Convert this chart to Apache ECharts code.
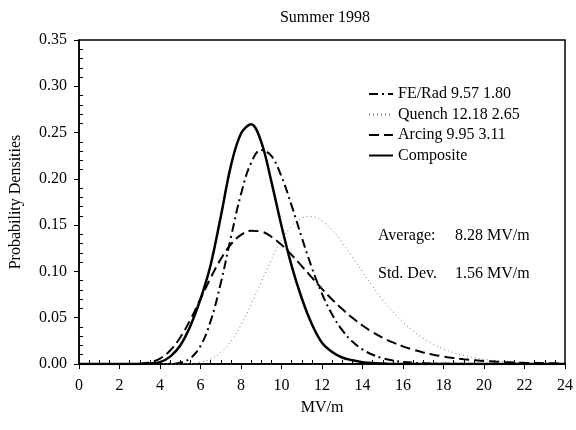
<!DOCTYPE html>
<html>
<head>
<meta charset="utf-8">
<script src="https://cdn.jsdelivr.net/npm/echarts@6/dist/echarts.min.js"></script>
<style>
html, body { margin: 0; padding: 0; background: #fff; }
#main { width: 576px; height: 430px; }
</style>
</head>
<body>
<div id="main"></div>
<script>
// MV/m sample points (x axis)
var xs = [0, 0.5, 1, 1.5, 2, 2.5, 3, 3.5, 4, 4.5, 5, 5.5, 6, 6.5, 7, 7.5, 8, 8.5, 9, 9.5,
  10, 10.5, 11, 11.5, 12, 12.5, 13, 13.5, 14, 14.5, 15, 15.5, 16, 16.5, 17, 17.5, 18, 18.5, 19, 19.5,
  20, 20.5, 21, 21.5, 22, 22.5, 23, 23.5, 24];

// probability densities
var feRad = [0, 0, 0, 0, 0, 0, 0, 0, 0, 0.0002, 0.0014, 0.0062, 0.0195, 0.0463, 0.0872, 0.1366, 0.1835, 0.2173, 0.2312, 0.2248,
  0.2026, 0.1711, 0.1366, 0.1040, 0.0759, 0.0535, 0.0365, 0.0242, 0.0157, 0.0100, 0.0062, 0.0038, 0.0023, 0.0014, 0.0008, 0.0005, 0.0003, 0.0002, 0.0001, 0,
  0, 0, 0, 0, 0, 0, 0, 0, 0];
var quench = [0, 0, 0, 0, 0, 0, 0, 0, 0, 0, 0.0001, 0.0005, 0.0019, 0.0055, 0.0126, 0.0247, 0.0421, 0.0642, 0.0886, 0.1127,
  0.1337, 0.1490, 0.1577, 0.1592, 0.1544, 0.1446, 0.1312, 0.1157, 0.0996, 0.0839, 0.0693, 0.0563, 0.0450, 0.0355, 0.0276, 0.0213, 0.0162, 0.0122, 0.0092, 0.0068,
  0.0050, 0.0037, 0.0027, 0.0019, 0.0014, 0.0010, 0.0007, 0.0005, 0.0004];
var arcing = [0, 0, 0, 0, 0, 0, 0.0004, 0.0018, 0.0059, 0.0146, 0.0287, 0.0479, 0.0703, 0.0930, 0.1133, 0.1292, 0.1395, 0.1439, 0.1430, 0.1375,
  0.1288, 0.1179, 0.1058, 0.0934, 0.0812, 0.0697, 0.0593, 0.0499, 0.0416, 0.0345, 0.0284, 0.0233, 0.0190, 0.0155, 0.0125, 0.0101, 0.0081, 0.0065, 0.0052, 0.0042,
  0.0033, 0.0026, 0.0021, 0.0017, 0.0013, 0.0011, 0.0009, 0.0007, 0.0005];
var composite = [0, 0, 0, 0, 0, 0, 0, 0.0005, 0.002, 0.008, 0.020, 0.041, 0.070, 0.107, 0.159, 0.214, 0.249, 0.259, 0.240, 0.197,
  0.149, 0.106, 0.071, 0.043, 0.023, 0.013, 0.007, 0.004, 0.002, 0.001, 0.0005, 0, 0, 0, 0, 0, 0, 0, 0, 0,
  0, 0, 0, 0, 0, 0, 0, 0, 0];

var names = ['FE/Rad 9.57 1.80', 'Quench 12.18 2.65', 'Arcing 9.95 3.11', 'Composite'];

function pairs(ys) {
  return xs.map(function (x, i) { return [x, ys[i]]; });
}

var font = 'Liberation Serif';
var myChart = echarts.init(document.getElementById('main'));

var option = {
  animation: false,
  backgroundColor: '#fff',
  textStyle: { fontFamily: font, color: '#000' },
  title: {
    text: 'Summer 1998',
    left: 320, top: 5, textAlign: 'center',
    textStyle: { fontFamily: font, fontWeight: 'normal', fontSize: 16, color: '#000' }
  },
  grid: {
    left: 78, right: 11, top: 40, bottom: 66,
    show: true, borderColor: '#000', borderWidth: 1.5, backgroundColor: 'transparent'
  },
  legend: {
    orient: 'vertical', left: 363, top: 81,
    itemWidth: 24, itemHeight: 15, itemGap: 4.5,
    itemStyle: { opacity: 0 },
    textStyle: { fontFamily: font, fontSize: 16, color: '#000' },
    data: names
  },
  xAxis: {
    type: 'value', min: 0, max: 24, interval: 2,
    name: 'MV/m', nameLocation: 'middle', nameGap: 36,
    nameTextStyle: { fontFamily: font, fontSize: 16, color: '#000' },
    axisLine: { onZero: false, lineStyle: { color: '#000', width: 1.5 } },
    axisTick: { length: 5, lineStyle: { color: '#000' } },
    minorTick: { show: true, splitNumber: 4, length: -4, lineStyle: { color: '#000' } },
    axisLabel: { fontFamily: font, fontSize: 16, color: '#000', margin: 14 },
    splitLine: { show: false }
  },
  yAxis: {
    type: 'value', min: 0, max: 0.35, interval: 0.05,
    name: 'Probability Densities', nameLocation: 'middle', nameGap: 55,
    nameTextStyle: { fontFamily: font, fontSize: 16, color: '#000' },
    axisLine: { show: true, lineStyle: { color: '#000', width: 1.5 } },
    axisTick: { show: true, length: 5, lineStyle: { color: '#000' } },
    minorTick: { show: true, splitNumber: 5, length: -4, lineStyle: { color: '#000' } },
    axisLabel: {
      fontFamily: font, fontSize: 16, color: '#000', margin: 12,
      formatter: function (v) { return v.toFixed(2); }
    },
    splitLine: { show: false }
  },
  series: [
    {
      name: names[0], type: 'line', data: pairs(feRad), symbol: 'none', smooth: 0.4,
      lineStyle: { color: '#000', width: 2, type: [9, 4, 2, 4] }, itemStyle: { color: '#000' }
    },
    {
      name: names[1], type: 'line', data: pairs(quench), symbol: 'none', smooth: 0.4,
      lineStyle: { color: '#777', width: 1, type: [1, 3] }, itemStyle: { color: '#777' }
    },
    {
      name: names[2], type: 'line', data: pairs(arcing), symbol: 'none', smooth: 0.4,
      lineStyle: { color: '#000', width: 2, type: [10, 5] }, itemStyle: { color: '#000' }
    },
    {
      name: names[3], type: 'line', data: pairs(composite), symbol: 'none', smooth: 0.35,
      lineStyle: { color: '#000', width: 2.5 }, itemStyle: { color: '#000' }
    }
  ],
  graphic: [
    { type: 'text', left: 378, top: 228, style: { text: 'Average:', font: '16px "Liberation Serif"', fill: '#000' } },
    { type: 'text', left: 455, top: 228, style: { text: '8.28 MV/m', font: '16px "Liberation Serif"', fill: '#000' } },
    { type: 'text', left: 378, top: 266, style: { text: 'Std. Dev.', font: '16px "Liberation Serif"', fill: '#000' } },
    { type: 'text', left: 455, top: 266, style: { text: '1.56 MV/m', font: '16px "Liberation Serif"', fill: '#000' } }
  ]
};

myChart.setOption(option);
</script>
</body>
</html>
